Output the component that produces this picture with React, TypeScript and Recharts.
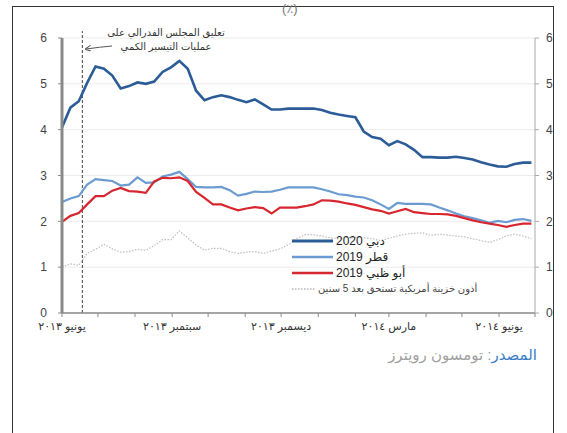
import React from "react";
import {
  LineChart,
  Line,
  XAxis,
  YAxis,
  CartesianGrid,
  ReferenceLine,
} from "recharts";

// days since 1 June 2013, one reading a week
const days = [
  0, 7, 14, 21, 28, 35, 42, 49, 56, 63, 70, 77, 84, 91, 98, 105, 112, 119, 126,
  133, 140, 147, 154, 161, 168, 175, 182, 189, 196, 203, 210, 217, 224, 231,
  238, 245, 252, 259, 266, 273, 280, 287, 294, 301, 308, 315, 322, 329, 336,
  343, 350, 357, 364, 371, 378, 385, 392,
];

const dubai2020 = [
  4.05, 4.48, 4.62, 5.02, 5.38, 5.33, 5.18, 4.9, 4.95, 5.03, 5.0, 5.05, 5.26,
  5.36, 5.5, 5.33, 4.85, 4.64, 4.71, 4.75, 4.71, 4.65, 4.6, 4.66, 4.55, 4.44,
  4.44, 4.46, 4.46, 4.46, 4.46, 4.43, 4.37, 4.33, 4.3, 4.27, 3.96, 3.84, 3.8,
  3.66, 3.75, 3.68, 3.56, 3.4, 3.4, 3.39, 3.39, 3.41, 3.38, 3.35, 3.29, 3.24,
  3.2, 3.19, 3.25, 3.28, 3.28,
];

const qatar2019 = [
  2.42, 2.5, 2.55, 2.8, 2.92, 2.9, 2.88, 2.78, 2.8, 2.96, 2.84, 2.85, 2.98,
  3.02, 3.08, 2.92, 2.75, 2.74, 2.74, 2.75, 2.68, 2.56, 2.6, 2.65, 2.64, 2.65,
  2.69, 2.74, 2.74, 2.74, 2.74, 2.7, 2.65, 2.59, 2.57, 2.54, 2.52, 2.46, 2.37,
  2.27, 2.4, 2.38, 2.38, 2.38, 2.37, 2.3, 2.24, 2.17, 2.11, 2.07, 2.02, 1.97,
  2.01, 1.98, 2.03, 2.05, 2.01,
];

const abuDhabi2019 = [
  1.99, 2.12, 2.18, 2.37, 2.55, 2.55, 2.67, 2.73, 2.66, 2.65, 2.62, 2.87, 2.95,
  2.94, 2.96, 2.88, 2.64, 2.51, 2.37, 2.37, 2.3, 2.24, 2.28, 2.31, 2.29, 2.17,
  2.3, 2.3, 2.3, 2.33, 2.37, 2.46, 2.45, 2.43, 2.39, 2.36, 2.31, 2.26, 2.23,
  2.17, 2.22, 2.27, 2.2, 2.18, 2.16, 2.16, 2.15, 2.12, 2.07, 2.02, 1.98, 1.95,
  1.92, 1.88, 1.92, 1.95, 1.95,
];

const usTreasury5y = [
  1.0, 1.07, 1.04, 1.3, 1.39, 1.5, 1.4, 1.33, 1.34, 1.39, 1.37, 1.47, 1.6, 1.6,
  1.79, 1.64, 1.48, 1.37, 1.41, 1.41, 1.34, 1.3, 1.33, 1.34, 1.3, 1.35, 1.4,
  1.49, 1.62, 1.71, 1.71, 1.68, 1.64, 1.62, 1.65, 1.65, 1.64, 1.62, 1.58, 1.63,
  1.68, 1.72, 1.74, 1.75, 1.69, 1.72, 1.7, 1.68, 1.66, 1.62, 1.58, 1.54, 1.6,
  1.68, 1.72, 1.68, 1.62,
];

// month starts (days since 1 June 2013) and the ones that carry a label
const monthStarts = [0, 30, 61, 92, 122, 153, 183, 214, 245, 273, 304, 334, 365, 395];
const monthLabels = {
  0: "يونيو ٢٠١٣",
  92: "سبتمبر ٢٠١٣",
  183: "ديسمبر ٢٠١٣",
  273: "مارس ٢٠١٤",
  365: "يونيو ٢٠١٤",
};
const yTicks = [0, 1, 2, 3, 4, 5, 6];
const taperDay = 17; // Fed comment on QE tapering, 19 June 2013

const legendItems = [
  { label: "دبي 2020", color: "#2b5c98", width: 3, dash: undefined, size: 12 },
  { label: "قطر 2019", color: "#6b9bd0", width: 2.5, dash: undefined, size: 12 },
  { label: "أبو ظبي 2019", color: "#d8262f", width: 2.5, dash: undefined, size: 12 },
  { label: "أذون خزينة أمريكية تستحق بعد 5 سنين", color: "#b5b5b5", width: 1.5, dash: "1.5 1.5", size: 10 },
];

const data = days.map((d, i) => ({
  day: d,
  dubai: dubai2020[i],
  qatar: qatar2019[i],
  abuDhabi: abuDhabi2019[i],
  ust: usTreasury5y[i],
}));

const FONT = "'Liberation Sans', 'DejaVu Sans', Arial, sans-serif";

const MonthTick = (props) => {
  const { x, y, payload } = props;
  const label = monthLabels[payload.value];
  if (!label) return null;
  return (
    <text x={x} y={y + 11} textAnchor="middle" fontSize={11} fill="#333" fontFamily={FONT}>
      {label}
    </text>
  );
};

export default function App() {
  return (
    <div
      style={{
        position: "absolute",
        left: 0,
        top: 0,
        width: 567,
        height: 433,
        background: "#fff",
        fontFamily: FONT,
        overflow: "hidden",
      }}
    >
      <LineChart
        width={567}
        height={433}
        data={data}
        margin={{ top: 38, right: 12, left: 42, bottom: 96 }}
      >
        <CartesianGrid vertical={false} stroke="#ececec" yAxisId="left" />
        <XAxis
          dataKey="day"
          type="number"
          domain={[0, 395]}
          ticks={monthStarts}
          interval={0}
          height={24}
          axisLine={{ stroke: "#8a8a8a", strokeWidth: 1.5 }}
          tickLine={{ stroke: "#8a8a8a" }}
          tickSize={4}
          tick={<MonthTick />}
        />
        <YAxis
          yAxisId="left"
          domain={[0, 6]}
          ticks={yTicks}
          width={20}
          axisLine={{ stroke: "#8a8a8a", strokeWidth: 3 }}
          tickLine={{ stroke: "#8a8a8a" }}
          tickSize={4}
          tickMargin={11}
          tick={{ fontSize: 12, fill: "#444", fontFamily: FONT }}
        />
        <YAxis
          yAxisId="right"
          orientation="right"
          domain={[0, 6]}
          ticks={yTicks}
          width={20}
          axisLine={{ stroke: "#aaa", strokeWidth: 1 }}
          tickLine={{ stroke: "#aaa" }}
          tickSize={4}
          tickMargin={7}
          tick={{ fontSize: 12, fill: "#444", fontFamily: FONT }}
        />
        <ReferenceLine
          yAxisId="left"
          segment={[
            { x: taperDay, y: 0 },
            { x: taperDay, y: 6.15 },
          ]}
          ifOverflow="visible"
          stroke="#444"
          strokeDasharray="3 2"
        />
        <Line
          yAxisId="right"
          dataKey="ust"
          type="linear"
          stroke="#bdbdbd"
          strokeWidth={1.2}
          strokeDasharray="1.5 1.5"
          dot={false}
          isAnimationActive={false}
        />
        <Line
          yAxisId="left"
          dataKey="qatar"
          type="linear"
          stroke="#6b9bd0"
          strokeWidth={2.2}
          dot={false}
          isAnimationActive={false}
        />
        <Line
          yAxisId="left"
          dataKey="abuDhabi"
          type="linear"
          stroke="#d8262f"
          strokeWidth={2.2}
          dot={false}
          isAnimationActive={false}
        />
        <Line
          yAxisId="left"
          dataKey="dubai"
          type="linear"
          stroke="#2b5c98"
          strokeWidth={2.6}
          dot={false}
          isAnimationActive={false}
        />
      </LineChart>

      {/* frame, legend keys and annotation arrow */}
      <svg
        width={567}
        height={433}
        style={{ position: "absolute", left: 0, top: 0, pointerEvents: "none" }}
      >
        <defs>
          <marker id="arrowHead" markerWidth="6" markerHeight="6" refX="5" refY="3" orient="auto">
            <path d="M0,0 L6,3 L0,6" fill="none" stroke="#555" strokeWidth="1" />
          </marker>
        </defs>
        <rect x={12.5} y={6.5} width={541} height={440} fill="none" stroke="#333" strokeWidth={1} />
        <path d="M112,46 Q100,47 86,49" fill="none" stroke="#555" strokeWidth={1} markerEnd="url(#arrowHead)" />
        {legendItems.map((item, i) => (
          <line
            key={item.label}
            x1={292}
            x2={item.dash ? 316 : 333}
            y1={241 + i * 16}
            y2={241 + i * 16}
            stroke={item.color}
            strokeWidth={item.width}
            strokeDasharray={item.dash}
          />
        ))}
      </svg>

      {/* title */}
      <div style={{ position: "absolute", left: 282, top: 1, fontSize: 13, color: "#777" }}>(٪)</div>

      {/* annotation */}
      <div
        dir="rtl"
        style={{
          position: "absolute",
          left: 166,
          top: 26,
          transform: "translateX(-50%)",
          fontSize: 10,
          lineHeight: "14px",
          color: "#333",
          textAlign: "center",
          whiteSpace: "nowrap",
        }}
      >
        تعليق المجلس الفدرالي على
        <br />
        عمليات التيسير الكمي
      </div>

      {/* legend labels */}
      {legendItems.map((item, i) => (
        <div
          key={item.label}
          dir="rtl"
          style={{
            position: "absolute",
            left: item.dash ? 318 : 336,
            top: 233 + i * 16,
            fontSize: item.size,
            lineHeight: "16px",
            color: item.dash ? "#444" : "#222",
            whiteSpace: "nowrap",
          }}
        >
          {item.label}
        </div>
      ))}

      {/* source */}
      <div
        dir="rtl"
        style={{
          position: "absolute",
          right: 567 - 537,
          top: 345,
          fontSize: 15,
          lineHeight: "20px",
          color: "#a0a0a0",
          whiteSpace: "nowrap",
        }}
      >
        <span style={{ color: "#3b7dc4" }}>المصدر</span>: تومسون رويترز
      </div>
    </div>
  );
}
